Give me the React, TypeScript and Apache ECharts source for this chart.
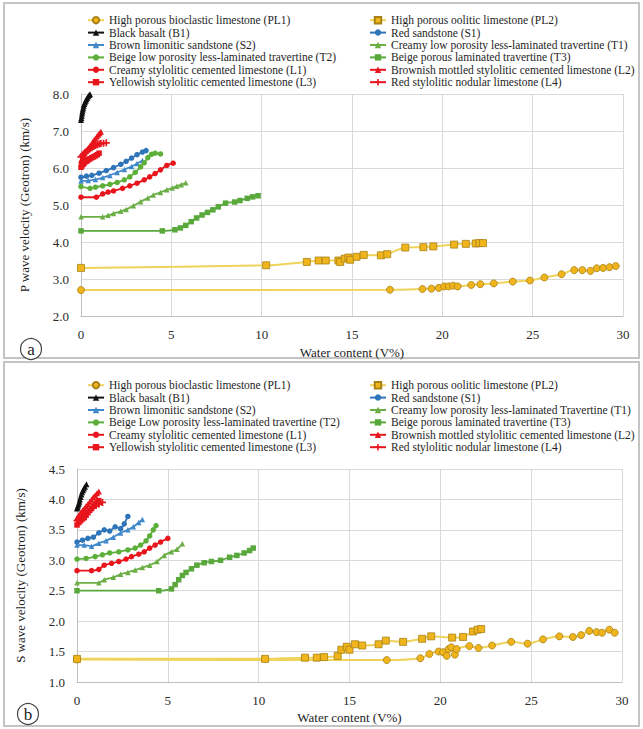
import React, { useEffect, useRef } from "react";
import * as echarts from "echarts";

type Pt = [number, number];

// ---- Panel (a): P wave velocity (km/s) vs water content (V%) ----
const pl1P: Pt[] = [[0, 2.7], [17.1, 2.71], [18.9, 2.73], [19.4, 2.74], [19.8, 2.76], [20.1, 2.8], [20.35, 2.8], [20.6, 2.82], [20.85, 2.8], [21.6, 2.84], [22.1, 2.86], [22.85, 2.88], [23.9, 2.93], [24.85, 2.96], [25.65, 3.04], [26.6, 3.13], [27.3, 3.24], [27.75, 3.24], [28.2, 3.22], [28.55, 3.29], [28.9, 3.3], [29.25, 3.32], [29.6, 3.35]];
const pl2P: Pt[] = [[0, 3.3], [10.25, 3.37], [12.5, 3.46], [13.15, 3.5], [13.55, 3.5], [14.25, 3.5], [14.35, 3.46], [14.6, 3.55], [14.8, 3.58], [14.9, 3.52], [15.25, 3.6], [15.65, 3.65], [16.6, 3.64], [16.95, 3.67], [17.95, 3.85], [18.95, 3.86], [19.5, 3.88], [20.65, 3.93], [21.3, 3.95], [21.85, 3.96], [22.05, 3.97], [22.25, 3.97]];
const b1P: Pt[] = [[0, 7.3], [0.02, 7.35], [0.04, 7.41], [0.06, 7.47], [0.08, 7.53], [0.1, 7.58], [0.12, 7.63], [0.15, 7.68], [0.18, 7.73], [0.22, 7.78], [0.26, 7.82], [0.3, 7.86], [0.35, 7.9], [0.4, 7.94], [0.45, 7.97], [0.5, 7.99]];
const s1P: Pt[] = [[0, 5.75], [0.3, 5.78], [0.6, 5.8], [1.0, 5.86], [1.4, 5.93], [1.8, 6.01], [2.2, 6.1], [2.5, 6.18], [2.8, 6.27], [3.1, 6.36], [3.4, 6.43], [3.6, 6.47]];
const s2P: Pt[] = [[0, 5.65], [0.4, 5.66], [0.8, 5.69], [1.2, 5.74], [1.6, 5.8], [2.0, 5.88], [2.4, 5.96], [2.8, 6.04], [3.1, 6.12], [3.4, 6.2]];
const t1P: Pt[] = [[0, 4.68], [1.2, 4.68], [1.5, 4.72], [1.8, 4.77], [2.2, 4.83], [2.5, 4.88], [2.9, 4.98], [3.3, 5.09], [3.7, 5.19], [4.0, 5.27], [4.4, 5.34], [4.75, 5.41], [5.05, 5.46], [5.3, 5.51], [5.55, 5.55], [5.8, 5.6]];
const t2P: Pt[] = [[0, 5.5], [0.5, 5.45], [0.8, 5.48], [1.2, 5.52], [1.6, 5.56], [2.0, 5.61], [2.4, 5.68], [2.7, 5.76], [3.0, 5.88], [3.3, 6.03], [3.5, 6.14], [3.7, 6.28], [3.9, 6.37], [4.1, 6.4], [4.4, 6.38]];
const t3P: Pt[] = [[0, 4.3], [4.5, 4.3], [5.2, 4.33], [5.5, 4.38], [5.8, 4.45], [6.1, 4.55], [6.4, 4.65], [6.7, 4.73], [7.0, 4.8], [7.3, 4.87], [7.6, 4.95], [8.0, 5.05], [8.5, 5.08], [8.8, 5.12], [9.2, 5.18], [9.5, 5.22], [9.8, 5.25]];
const l1P: Pt[] = [[0, 5.21], [0.85, 5.21], [1.2, 5.3], [1.5, 5.35], [1.8, 5.38], [2.3, 5.45], [2.7, 5.52], [3.1, 5.59], [3.5, 5.68], [3.8, 5.76], [4.1, 5.85], [4.4, 5.95], [4.75, 6.07], [5.1, 6.13]];
const l2P: Pt[] = [[0, 6.2], [0.05, 6.25], [0.1, 6.3], [0.15, 6.35], [0.2, 6.4], [0.28, 6.45], [0.35, 6.5], [0.42, 6.55], [0.5, 6.6], [0.58, 6.65], [0.65, 6.7], [0.72, 6.75], [0.8, 6.8], [0.88, 6.85], [0.95, 6.9], [1.02, 6.94], [1.1, 6.98]];
const l3P: Pt[] = [[0, 6.02], [0.05, 6.06], [0.1, 6.1], [0.15, 6.12], [0.2, 6.15], [0.28, 6.18], [0.35, 6.2], [0.42, 6.23], [0.5, 6.25], [0.6, 6.28], [0.7, 6.3], [0.8, 6.33], [0.9, 6.36], [1.0, 6.4]];
const l4P: Pt[] = [[0, 6.3], [0.08, 6.34], [0.15, 6.38], [0.22, 6.42], [0.3, 6.45], [0.4, 6.49], [0.5, 6.52], [0.6, 6.55], [0.7, 6.58], [0.8, 6.61], [0.9, 6.63], [1.0, 6.65], [1.1, 6.66], [1.25, 6.67], [1.4, 6.68]];

// ---- Panel (b): S wave velocity (km/s) vs water content (V%) ----
const pl1S: Pt[] = [[0, 1.37], [17.05, 1.36], [18.9, 1.39], [19.4, 1.46], [19.9, 1.5], [20.15, 1.49], [20.35, 1.43], [20.45, 1.54], [20.6, 1.57], [20.8, 1.45], [20.9, 1.54], [21.6, 1.59], [22.1, 1.56], [22.85, 1.6], [23.9, 1.66], [24.8, 1.63], [25.65, 1.7], [26.55, 1.75], [27.3, 1.74], [27.75, 1.77], [28.2, 1.84], [28.6, 1.82], [28.9, 1.81], [29.3, 1.86], [29.6, 1.81]];
const pl2S: Pt[] = [[0, 1.38], [10.35, 1.38], [12.55, 1.4], [13.2, 1.4], [13.6, 1.41], [14.35, 1.43], [14.55, 1.53], [14.85, 1.58], [15.0, 1.53], [15.3, 1.62], [15.7, 1.6], [16.6, 1.62], [17.0, 1.68], [17.95, 1.66], [19.0, 1.71], [19.5, 1.75], [20.65, 1.73], [21.25, 1.74], [21.8, 1.83], [22.05, 1.86], [22.25, 1.87]];
const b1S: Pt[] = [[0, 3.85], [0.03, 3.87], [0.06, 3.9], [0.1, 3.93], [0.13, 3.96], [0.16, 4.0], [0.2, 4.04], [0.24, 4.08], [0.28, 4.12], [0.33, 4.15], [0.38, 4.18], [0.44, 4.21], [0.52, 4.25]];
const s1S: Pt[] = [[0, 3.3], [0.3, 3.33], [0.6, 3.36], [0.9, 3.38], [1.2, 3.45], [1.5, 3.5], [1.8, 3.48], [2.1, 3.55], [2.4, 3.52], [2.6, 3.6], [2.8, 3.72]];
const s2S: Pt[] = [[0, 3.25], [0.4, 3.25], [0.8, 3.23], [1.2, 3.28], [1.6, 3.32], [2.0, 3.38], [2.4, 3.45], [2.8, 3.5], [3.1, 3.55], [3.4, 3.62], [3.6, 3.67]];
const t1S: Pt[] = [[0, 2.63], [1.2, 2.63], [1.5, 2.68], [2.0, 2.72], [2.4, 2.77], [2.8, 2.8], [3.2, 2.84], [3.6, 2.88], [4.0, 2.92], [4.4, 2.98], [4.8, 3.08], [5.2, 3.14], [5.5, 3.18], [5.8, 3.27]];
const t2S: Pt[] = [[0, 3.02], [0.5, 3.03], [1.0, 3.06], [1.4, 3.09], [1.8, 3.12], [2.3, 3.14], [2.8, 3.17], [3.2, 3.2], [3.5, 3.25], [3.8, 3.32], [4.0, 3.4], [4.2, 3.5], [4.35, 3.57]];
const t3S: Pt[] = [[0, 2.5], [4.5, 2.5], [5.2, 2.53], [5.4, 2.6], [5.6, 2.68], [5.8, 2.75], [6.0, 2.8], [6.3, 2.86], [6.6, 2.92], [7.0, 2.96], [7.4, 2.98], [7.9, 3.0], [8.4, 3.05], [8.8, 3.08], [9.2, 3.12], [9.5, 3.16], [9.7, 3.2]];
const l1S: Pt[] = [[0, 2.83], [0.8, 2.83], [1.2, 2.85], [1.5, 2.92], [1.9, 2.95], [2.3, 2.98], [2.7, 3.02], [3.0, 3.06], [3.4, 3.1], [3.7, 3.14], [4.0, 3.2], [4.3, 3.25], [4.6, 3.3], [5.0, 3.36]];
const l2S: Pt[] = [[0, 3.7], [0.1, 3.74], [0.2, 3.78], [0.3, 3.82], [0.4, 3.85], [0.5, 3.89], [0.6, 3.92], [0.7, 3.96], [0.8, 4.0], [0.9, 4.04], [1.0, 4.07], [1.1, 4.1], [1.2, 4.13]];
const l3S: Pt[] = [[0, 3.58], [0.1, 3.62], [0.2, 3.65], [0.3, 3.68], [0.4, 3.7], [0.5, 3.74], [0.6, 3.78], [0.7, 3.82], [0.8, 3.85], [0.9, 3.89], [1.0, 3.92], [1.1, 3.95], [1.2, 3.98]];
const l4S: Pt[] = [[0, 3.65], [0.1, 3.68], [0.2, 3.7], [0.3, 3.73], [0.4, 3.75], [0.5, 3.78], [0.6, 3.8], [0.75, 3.84], [0.9, 3.87], [1.05, 3.9], [1.2, 3.92], [1.4, 3.95]];

// Series names (legend labels) for each panel
const namesA = [
  "High porous bioclastic limestone (PL1)",
  "High porous oolitic limestone (PL2)",
  "Black basalt (B1)",
  "Red sandstone (S1)",
  "Brown limonitic sandstone (S2)",
  "Creamy low porosity less-laminated travertine (T1)",
  "Beige low porosity less-laminated travertine (T2)",
  "Beige porous laminated travertine (T3)",
  "Creamy stylolitic cemented limestone (L1)",
  "Brownish mottled stylolitic cemented limestone (L2)",
  "Yellowish stylolitic cemented limestone (L3)",
  "Red stylolitic nodular limestone (L4)",
];
const namesB = [
  "High porous bioclastic limestone (PL1) ",
  "High porous oolitic limestone (PL2) ",
  "Black basalt (B1) ",
  "Red sandstone (S1) ",
  "Brown limonitic sandstone (S2) ",
  "Creamy low porosity less-laminated Travertine (T1)",
  "Beige Low porosity less-laminated travertine (T2)",
  "Beige porous laminated travertine (T3) ",
  "Creamy stylolitic cemented limestone (L1) ",
  "Brownish mottled stylolitic cemented limestone (L2) ",
  "Yellowish stylolitic cemented limestone (L3) ",
  "Red stylolitic nodular limestone (L4) ",
];

const xTicksMax = 30;
const pAxis = { min: 2, max: 8, interval: 1 };
const sAxis = { min: 1, max: 4.5, interval: 0.5 };

const FONT = "Liberation Serif";
const PLUS = "path://M3,0H5V3H8V5H5V8H3V5H0V3H3Z";

type Look = { line: string; fill: string; border?: string; symbol: string; size: number };
const looks: Look[] = [
  { line: "#efd35a", fill: "#f0b41c", border: "#a88215", symbol: "circle", size: 7 },
  { line: "#efd35a", fill: "#f0b41c", border: "#a88215", symbol: "rect", size: 7 },
  { line: "#111111", fill: "#111111", symbol: "triangle", size: 6 },
  { line: "#2e74b8", fill: "#2e74b8", symbol: "circle", size: 5.5 },
  { line: "#3f88c9", fill: "#3f88c9", symbol: "triangle", size: 5.5 },
  { line: "#6aae45", fill: "#6aae45", symbol: "triangle", size: 5.5 },
  { line: "#5cb03a", fill: "#5cb03a", symbol: "circle", size: 5.5 },
  { line: "#58a83c", fill: "#58a83c", symbol: "rect", size: 5.5 },
  { line: "#e8151d", fill: "#e8151d", symbol: "circle", size: 5.5 },
  { line: "#e8151d", fill: "#e8151d", symbol: "triangle", size: 6 },
  { line: "#e8151d", fill: "#e8151d", symbol: "rect", size: 5.5 },
  { line: "#e8151d", fill: "#e8151d", symbol: PLUS, size: 7 },
];

const dataA = [pl1P, pl2P, b1P, s1P, s2P, t1P, t2P, t3P, l1P, l2P, l3P, l4P];
const dataB = [pl1S, pl2S, b1S, s1S, s2S, t1S, t2S, t3S, l1S, l2S, l3S, l4S];

function makeSeries(names: string[], data: Pt[][], axis: number) {
  return data.map((pts, i) => {
    const lk = looks[i];
    return {
      type: "line",
      name: names[i],
      xAxisIndex: axis,
      yAxisIndex: axis,
      data: pts,
      smooth: 0.25,
      symbol: lk.symbol,
      symbolSize: lk.size,
      showSymbol: true,
      lineStyle: { color: lk.line, width: i < 2 ? 2 : 1.8 },
      itemStyle: { color: lk.fill, borderColor: lk.border ?? lk.fill, borderWidth: lk.border ? 0.8 : 0 },
      z: i < 2 ? 2 : 3,
    };
  });
}

function legendCols(names: string[], top: number) {
  const col = (idx: number[], left: number) => ({
    orient: "vertical",
    left,
    top,
    itemGap: 0,
    itemWidth: 16,
    itemHeight: 8,
    selectedMode: false,
    textStyle: { fontFamily: FONT, fontSize: 11.5, color: "#1e1e1e", lineHeight: 12.4 },
    data: idx.map((k) => names[k]),
  });
  return [col([0, 2, 4, 6, 8, 10], 82), col([1, 3, 5, 7, 9, 11], 364)];
}

function axisStyle() {
  return {
    axisLine: { show: true, lineStyle: { color: "#bfbfbf", width: 1 } },
    axisTick: { show: false },
    splitLine: { show: true, lineStyle: { color: "#d9d9d9", width: 1 } },
    axisLabel: { fontFamily: FONT, fontSize: 13, color: "#2a2a2a", margin: 12 },
    nameTextStyle: { fontFamily: FONT, fontSize: 13, color: "#1e1e1e" },
  };
}

export default function App() {
  const ref = useRef<HTMLDivElement>(null);

  useEffect(() => {
    if (!ref.current) return;
    const chart = echarts.init(ref.current, undefined, { renderer: "svg" });
    const xBase = (grid: number, gap: number) => ({
      ...axisStyle(),
      type: "value",
      gridIndex: grid,
      min: 0,
      max: xTicksMax,
      interval: 5,
      name: "Water content (V%)",
      nameLocation: "middle",
      nameGap: gap,
    });
    const yBase = (grid: number, cfg: { min: number; max: number; interval: number }, name: string, gap: number) => ({
      ...axisStyle(),
      type: "value",
      gridIndex: grid,
      min: cfg.min,
      max: cfg.max,
      interval: cfg.interval,
      name,
      nameLocation: "middle",
      nameGap: gap,
      axisLabel: { ...axisStyle().axisLabel, formatter: (v: number) => v.toFixed(1) },
    });

    const frame = (y: number, h: number) => ({
      type: "rect",
      shape: { x: 4, y, width: 635, height: h },
      style: { fill: "none", stroke: "#c4c4c4", lineWidth: 2 },
      silent: true,
    });
    const badge = (cx: number, cy: number, t: string) => ({
      type: "group",
      children: [
        { type: "circle", shape: { cx, cy, r: 10.5 }, style: { fill: "#fff", stroke: "#444", lineWidth: 1.2 } },
        {
          type: "text",
          x: cx,
          y: cy,
          style: { text: t, fontFamily: FONT, fontSize: 17, fill: "#222", align: "center", verticalAlign: "middle" },
        },
      ],
    });

    chart.setOption({
      animation: false,
      backgroundColor: "#ffffff",
      grid: [
        { left: 81, top: 94, width: 542, height: 222 },
        { left: 77, top: 469, width: 545, height: 213 },
      ],
      xAxis: [xBase(0, 30), xBase(1, 29)],
      yAxis: [
        yBase(0, pAxis, "P wave velocity (Geotron) (km/s)", 50),
        yBase(1, sAxis, "S wave velocity (Geotron) (km/s)", 50),
      ],
      legend: [...legendCols(namesA, 9), ...legendCols(namesB, 374)],
      graphic: [frame(3, 355), frame(362, 364), badge(31, 349, "a"), badge(28, 714, "b")],
      series: [...makeSeries(namesA, dataA, 0), ...makeSeries(namesB, dataB, 1)],
    });
    return () => chart.dispose();
  }, []);

  return <div ref={ref} style={{ position: "fixed", left: 0, top: 0, width: 643, height: 729 }} />;
}
